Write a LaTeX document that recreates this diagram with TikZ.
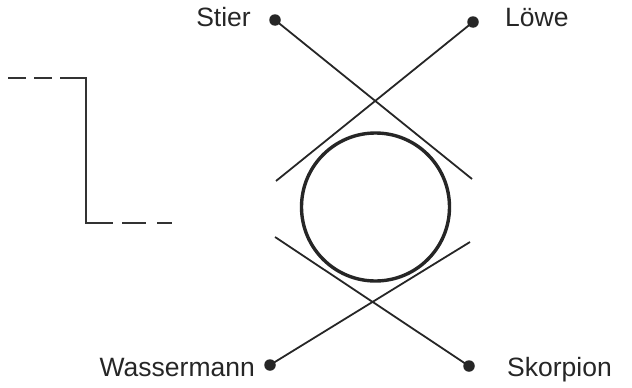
\documentclass[tikz,border=0pt]{standalone}
\usepackage{fontspec}
\setmainfont{Liberation Sans}
\begin{document}
\begin{tikzpicture}[x=1pt,y=-1pt,
  dot/.style={circle,fill=black!85,inner sep=0pt,minimum size=11.5pt},
  lbl/.style={font=\fontsize{26.5}{29}\selectfont,text=black!85,inner sep=0pt},
  ln/.style={line width=1.8pt,draw=black!85},
  dsh/.style={line width=1.9pt,draw=black!80}]
\useasboundingbox (0,0) rectangle (632,388);
% dots
\node[dot] (stier) at (275,20) {};
\node[dot] (loewe) at (473,22) {};
\node[dot] (wasser) at (270,365) {};
\node[dot] (skorp) at (469,366) {};
% labels
\node[lbl,anchor=base east] (tstier) at (251,27) {Stier};
\node[lbl,anchor=base west] (tloewe) at (505,27) {Löwe};
\node[lbl,anchor=base east] (twasser) at (255,376) {Wassermann};
\node[lbl,anchor=base west] (tskorp) at (507,376) {Skorpion};
% line ends
\coordinate (e1) at (472,179);
\coordinate (e2) at (276,181);
\coordinate (e3) at (275,237);
\coordinate (e4) at (470,242);
\draw[ln] (stier.center) -- (e1);
\draw[ln] (loewe.center) -- (e2);
\draw[ln] (skorp.center) -- (e3);
\draw[ln] (wasser.center) -- (e4);
% circle
\node[circle,draw=black!85,line width=3.4pt,minimum size=148pt,inner sep=0pt] (c) at (375.5,207) {};
% dashed bracket
\coordinate (a1) at (60,78);
\coordinate (a2) at (86,78);
\coordinate (a3) at (86,223);
\coordinate (a4) at (113,223);
\draw[dsh] (a1) -- (a2) -- (a3) -- (a4);
\coordinate (d1) at (8,78); \coordinate (d2) at (26,78);
\coordinate (d3) at (34,78); \coordinate (d4) at (52,78);
\coordinate (d5) at (122,223); \coordinate (d6) at (146,223);
\coordinate (d7) at (157,223); \coordinate (d8) at (172,223);
\draw[dsh] (d1) -- (d2) (d3) -- (d4) (d5) -- (d6) (d7) -- (d8);
\end{tikzpicture}
\end{document}
